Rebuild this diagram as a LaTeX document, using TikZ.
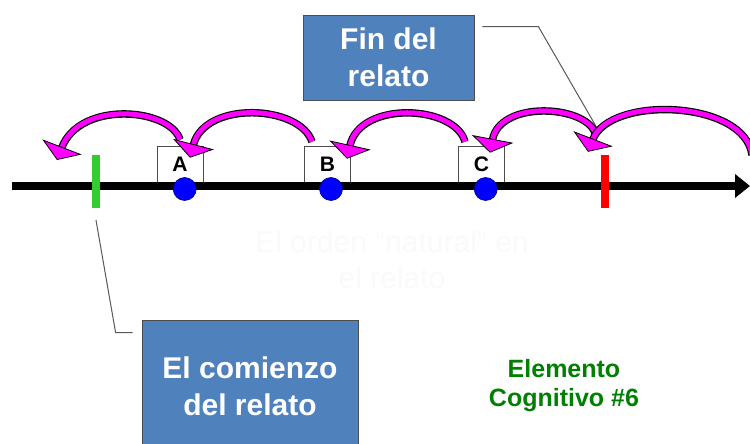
\documentclass[tikz,border=0pt]{standalone}
\usepackage{fontspec}
\setmainfont{Liberation Sans}
\usetikzlibrary{arrows.meta,positioning}
\definecolor{boxblue}{RGB}{79,129,189}
\definecolor{jumppink}{RGB}{255,0,255}
\definecolor{startgreen}{RGB}{51,204,51}
\definecolor{labelgreen}{RGB}{0,128,0}

\begin{document}
\begin{tikzpicture}[x=1pt,y=-1pt,
  bluebox/.style={draw=black!70,fill=boxblue,text=white,line width=0.8pt,
    font=\fontsize{30}{37}\selectfont\bfseries,align=center,inner sep=0pt},
  letterbox/.style={draw=black!70,fill=white,line width=0.6pt,minimum width=46pt,
    minimum height=36pt,inner sep=0pt,font=\fontsize{21}{24}\selectfont\bfseries},
  event/.style={circle,draw=blue!50!black,fill=blue,line width=0.6pt,minimum size=23pt,inner sep=0pt},
  tick/.style={minimum width=8pt,minimum height=53pt,inner sep=0pt},
  callout/.style={draw=black!65,line width=1pt},
  jump/.style={line width=5pt,jumppink,
    preaction={draw=black,line width=7.5pt,-,shorten >=13pt},
    -{Triangle[length=14pt,width=42pt,fill=jumppink,color=black,line width=0.8pt]}}]
\useasboundingbox[fill=white] (0,0) rectangle (750,444);

% text boxes
\node[bluebox,minimum width=171pt,minimum height=85pt] (fin) at (388.5,57.5) {Fin del\\relato};
\node[bluebox,minimum width=216pt,minimum height=133pt] (comienzo) at (250,386.5) {El comienzo\\del relato};
\node[text=black!2,font=\fontsize{30}{36}\selectfont,align=center] (orden) at (392,260) {El orden “natural” en\\el relato};
\node[text=labelgreen,font=\fontsize{25}{29}\selectfont\bfseries,align=center] (elemento) at (564,386) {Elemento\\Cognitivo \#6};

% the events
\node[letterbox] (boxA) at (180,164) {A};
\node[letterbox] (boxB) at (327.5,164) {B};
\node[letterbox] (boxC) at (481.5,164.5) {C};
\draw[line width=8pt,-{Triangle[length=15pt,width=23pt]}] (12,186) -- (750,186);
\node[event] (dotA) at (184.7,189) {};
\node[event] (dotB) at (331,189) {};
\node[event] (dotC) at (485.7,189) {};
\node[tick,fill=startgreen] (start) at (96,181.5) {};
\node[tick,fill=red] (end) at (605,181.5) {};

% callouts
\coordinate (finend) at (597,128);
\draw[callout] ([xshift=8pt,yshift=-12pt]fin.north east) -- ++(56,0) -- (finend);
\draw[callout] ([xshift=-9pt,yshift=-13pt]comienzo.north west) -- ++(-17,0) -- ([yshift=-12pt]start.south);

% jumps back in time
\coordinate (headA) at (57,160);
\draw[jump] ([yshift=6pt]boxA.north) .. controls (170,108) and (80,100) .. (headA);
\draw[jump] ([xshift=-15.5pt,yshift=4pt]boxB.north) .. controls (300,105) and (205,100) .. ([xshift=10pt,yshift=-12pt]boxA.north);
\draw[jump] ([xshift=-16.5pt,yshift=4.5pt]boxC.north) .. controls (455,105) and (360,100) .. ([xshift=19.5pt,yshift=-13pt]boxB.north);
\draw[jump] ([xshift=-10pt,yshift=22pt]end.north) .. controls (585,105) and (500,100) .. ([xshift=8.5pt,yshift=-6.5pt]boxC.north);
\coordinate (offright) at (752,155);
\draw[jump] (offright) .. controls (745,100) and (610,95) .. ([xshift=-17pt,yshift=3pt]end.north);
\end{tikzpicture}
\end{document}
